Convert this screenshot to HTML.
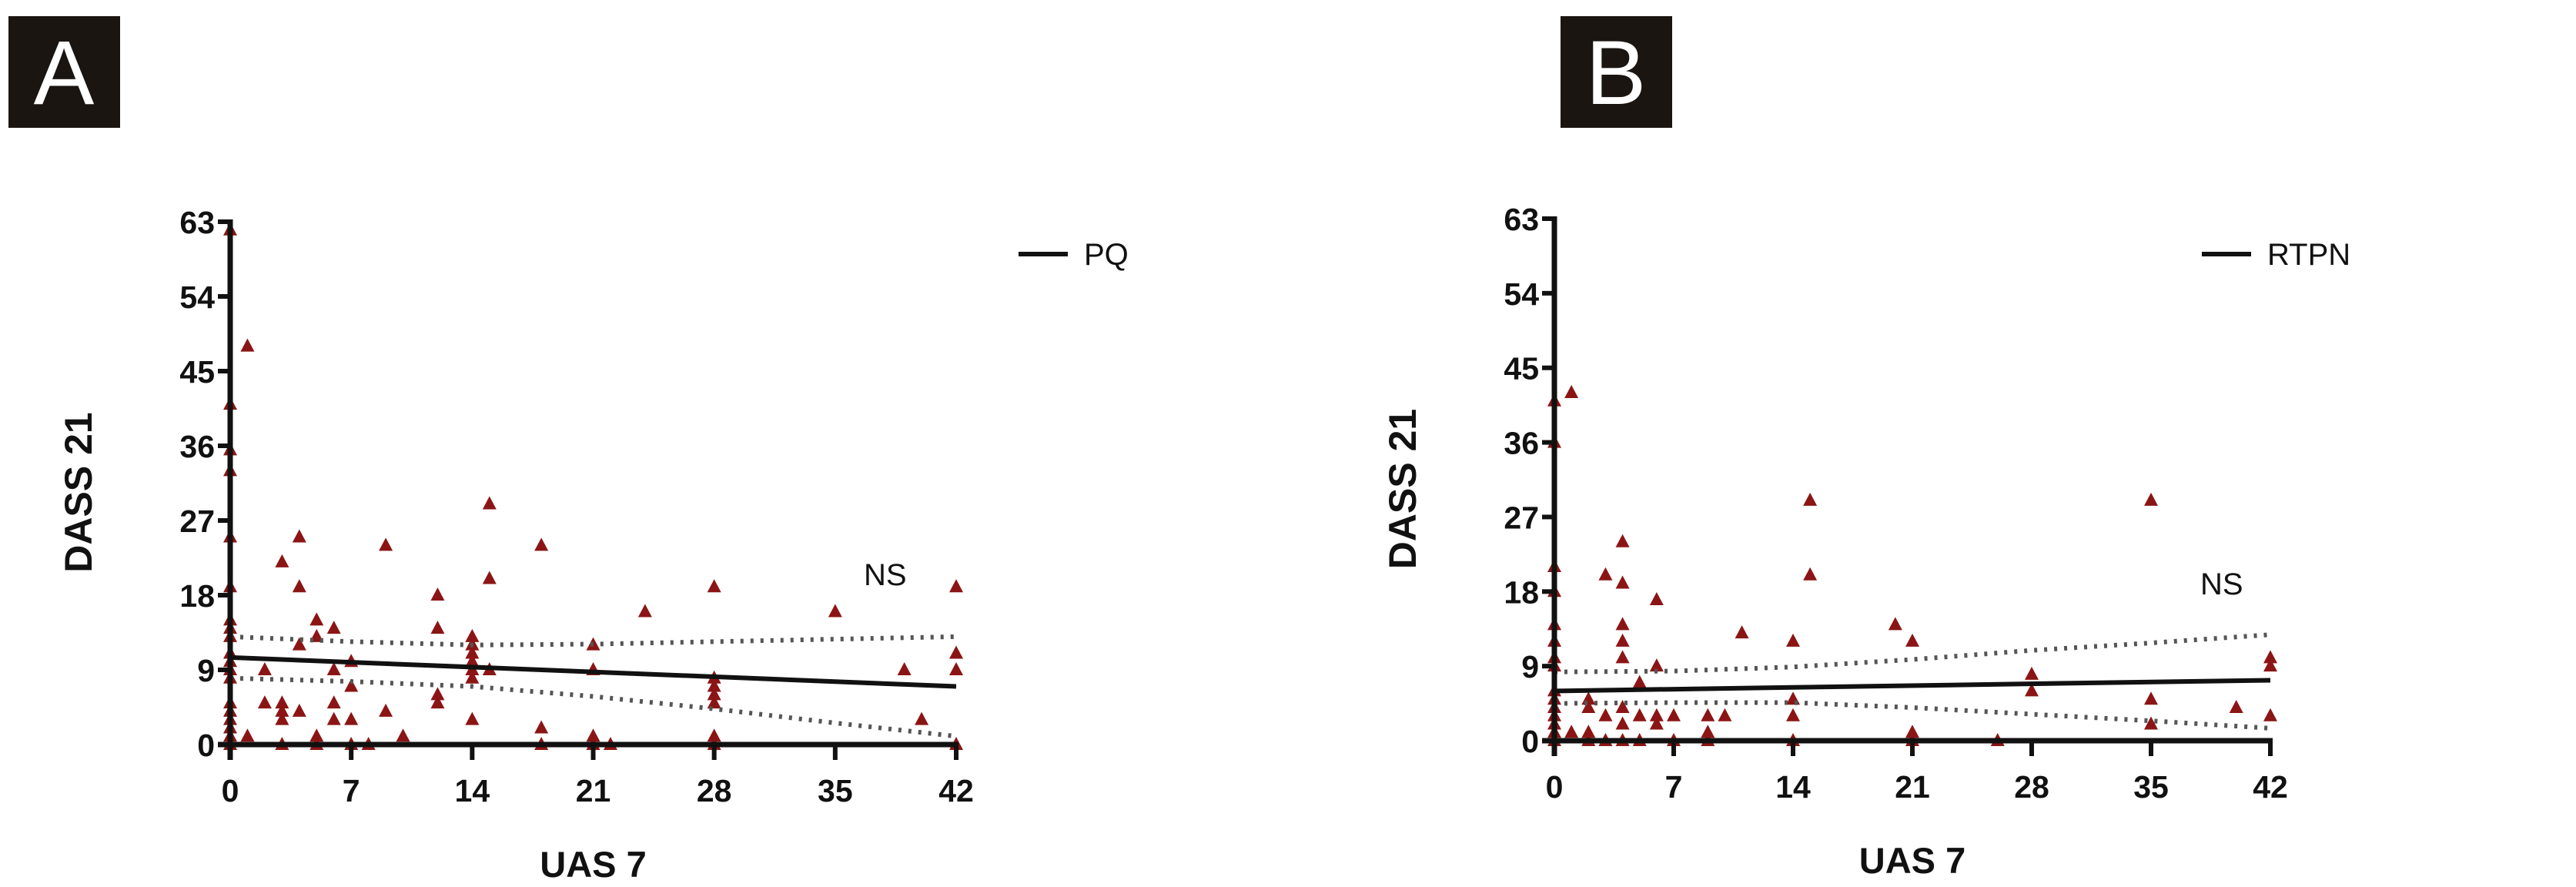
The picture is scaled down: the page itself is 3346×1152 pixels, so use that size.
<!DOCTYPE html>
<html><head><meta charset="utf-8">
<style>
html,body{margin:0;padding:0;background:#fff;}
svg{display:block;}
text{font-family:"Liberation Sans",Arial,sans-serif;}
</style></head>
<body>
<svg id="fig" width="3346" height="1152" viewBox="0 0 3346 1152" xmlns="http://www.w3.org/2000/svg"></svg>
<script>
// ---- data ----
const xTicks = [0,7,14,21,28,35,42];
const yTicks = [0,9,18,27,36,45,54,63];
const aX = [0,0,0,0,0,0,0,0,0,0,0,0,0,0,0,0,0,0,0, 1,1, 2,2, 3,3,3,3,3, 4,4,4,4, 5,5,5,5, 6,6,6,6, 7,7,7,7, 8, 9,9, 10, 12,12,12,12, 14,14,14,14,14,14,14, 15,15,15, 18,18,18, 21,21,21,21, 22, 24, 28,28,28,28,28,28,28, 35, 39, 40, 42,42,42,42];
const aY = [62,41,35.5,33,25,19,15,14,13,11,10,9,8,5,4,3,2,1,0, 48,1, 9,5, 22,5,4,3,0, 25,19,12,4, 15,13,1,0, 14,9,5,3, 10,7,3,0, 0, 24,4, 1, 18,14,6,5, 13,12,11,10,9,8,3, 29,20,9, 24,2,0, 12,9,1,0, 0, 16, 19,8,7,6,5,1,0, 16, 9, 3, 19,11,9,0];
const aFit = [[0,10.5],[42,7]];
const aUpper = [[0,13],[7,12.4],[14,12],[21,12.1],[28,12.4],[35,12.7],[42,13]];
const aLower = [[0,8],[7,7.6],[14,7],[21,5.8],[28,4.3],[35,2.6],[42,1]];
const bX = [0,0,0,0,0,0,0,0,0,0,0,0,0,0,0, 1,1, 2,2,2,2, 3,3,3, 4,4,4,4,4,4,4,4, 5,5,5, 6,6,6,6, 7,7, 9,9,9, 10, 11, 14,14,14,14, 15,15, 20, 21,21,21, 26, 28,28, 35,35,35, 40, 42,42,42];
const bY = [41,36,21,18,14,12,10,9,6,5,4,3,2,1,0, 42,1, 5,4,1,0, 20,3,0, 24,19,14,12,10,4,2,0, 7,3,0, 17,9,3,2, 3,0, 3,1,0, 3, 13, 12,5,3,0, 29,20, 14, 12,1,0, 0, 8,6, 29,5,2, 4, 10,9,3];
const bFit = [[0,6],[42,7.3]];
const bUpper = [[0,8.3],[7,8.4],[14,8.9],[21,9.8],[28,10.9],[35,11.8],[42,12.8]];
const bLower = [[0,4.5],[7,4.6],[14,4.6],[21,4],[28,3.2],[35,2.4],[42,1.5]];

const NS="http://www.w3.org/2000/svg";
const svg=document.getElementById('fig');
function el(tag,attrs,parent){const e=document.createElementNS(NS,tag);for(const k in attrs)e.setAttribute(k,attrs[k]);(parent||svg).appendChild(e);return e;}

function panel(cfg){
  const g=el('g',{});
  
  
  const sx=v=>cfg.x0+(cfg.x1-cfg.x0)*v/42;
  const sy=v=>cfg.y0-(cfg.y0-cfg.y1)*v/63;
  const box=el('rect',{x:cfg.bx,y:21,width:145,height:145,fill:'#1a1511'},g);
  
  
  const lt=el('text',{x:cfg.bx+72,y:135,'text-anchor':'middle','font-size':118,fill:'#fff'},g);
  lt.textContent=cfg.letter;
  
  
  for(let i=0;i<cfg.X.length;i++){
    const cx=sx(cfg.X[i]),cy=sy(cfg.Y[i]);
    const p=el('polygon',{points:`${cx},${cy-10} ${cx-9},${cy+7} ${cx+9},${cy+7}`,fill:'#8b1515'},g);
    
    
  }
  [cfg.U,cfg.L].forEach((arr,j)=>{
    const d=arr.map((p,i)=>(i?'L':'M')+sx(p[0])+','+sy(p[1])).join(' ');
    const pl=el('path',{d:d,fill:'none',stroke:'#555','stroke-width':6,'stroke-dasharray':'4 9'},g);
    
    
  });
  const fl=el('line',{x1:sx(cfg.F[0][0]),y1:sy(cfg.F[0][1]),x2:sx(cfg.F[1][0]),y2:sy(cfg.F[1][1]),stroke:'#111','stroke-width':6},g);
  
  
  const ya=el('line',{x1:cfg.x0,y1:cfg.y1-3,x2:cfg.x0,y2:cfg.y0+20,stroke:'#111','stroke-width':7},g);
  
  
  const xa=el('line',{x1:cfg.x0-16,y1:cfg.y0,x2:cfg.x1+3,y2:cfg.y0,stroke:'#111','stroke-width':7},g);
  
  
  yTicks.forEach(v=>{
    el('line',{x1:cfg.x0-16,y1:sy(v),x2:cfg.x0,y2:sy(v),stroke:'#111','stroke-width':6},g);
    const t=el('text',{x:cfg.x0-20,y:sy(v)+15,'text-anchor':'end','font-size':41,'font-weight':'bold',fill:'#111'},g);
    t.textContent=v;
    
    
  });
  xTicks.forEach(v=>{
    el('line',{x1:sx(v),y1:cfg.y0,x2:sx(v),y2:cfg.y0+20,stroke:'#111','stroke-width':6},g);
    const t=el('text',{x:sx(v),y:cfg.y0+74,'text-anchor':'middle','font-size':41,'font-weight':'bold',fill:'#111'},g);
    t.textContent=v;
    
    
  });
  const xt=el('text',{x:(cfg.x0+cfg.x1)/2,y:cfg.y0+172,'text-anchor':'middle','font-size':47,'font-weight':'bold',fill:'#111'},g);
  xt.textContent='UAS 7';
  
  
  const yx=cfg.x0-180, yy=(cfg.y0+cfg.y1)/2+12;
  const yt=el('text',{x:yx,y:yy,'text-anchor':'middle','font-size':50,'font-weight':'bold',fill:'#111',transform:`rotate(-90 ${yx} ${yy})`},g);
  yt.textContent='DASS 21';
  
  
  const ns=el('text',{x:cfg.nsx,y:cfg.nsy,'font-size':40,fill:'#111'},g);
  ns.textContent='NS';
  
  
  const lg=el('line',{x1:cfg.lx,y1:330,x2:cfg.lx+64,y2:330,stroke:'#111','stroke-width':6},g);
  
  
  const lt2=el('text',{x:cfg.lx+85,y:344,'font-size':40,fill:'#111'},g);
  lt2.textContent=cfg.legend;
  
  
}
panel({letter:'A',bx:11,x0:299,x1:1242,y0:967,y1:288,X:aX,Y:aY,F:aFit,U:aUpper,L:aLower,nsx:1122,nsy:760,lx:1323,legend:'PQ'});
panel({letter:'B',bx:2027,x0:2019,x1:2949,y0:962,y1:284,X:bX,Y:bY,F:bFit,U:bUpper,L:bLower,nsx:2858,nsy:772,lx:2860,legend:'RTPN'});
</script>
</body></html>
